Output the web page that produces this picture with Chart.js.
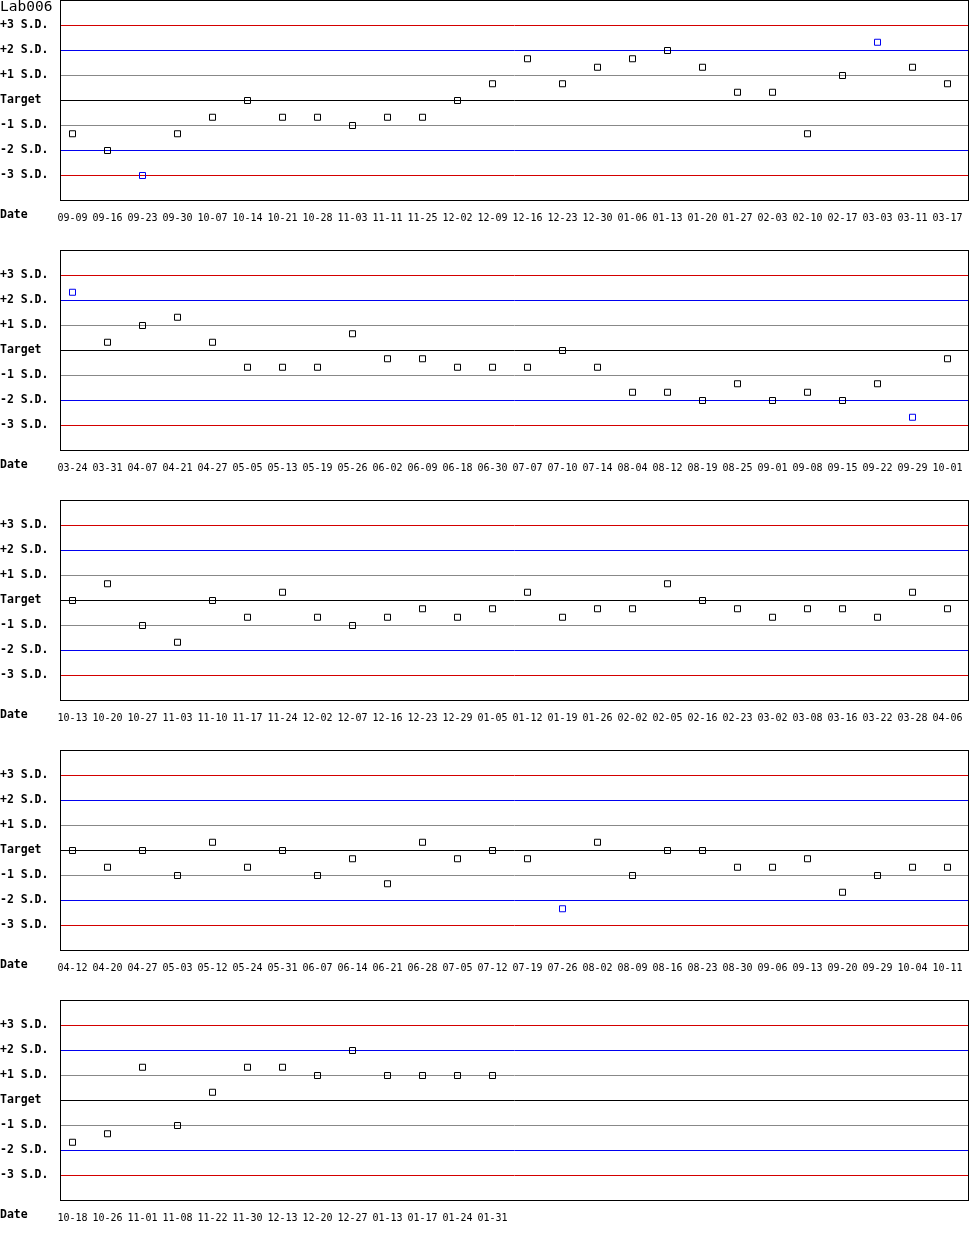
<!DOCTYPE html>
<html>
<head>
<meta charset="utf-8">
<script src="https://cdn.jsdelivr.net/npm/chart.js@4.4.1/dist/chart.umd.min.js"></script>
<style>
  body { margin: 0; background: #fff; }
  .panel { position: absolute; left: 0; width: 970px; height: 250px; }
</style>
</head>
<body>
<div class="panel" style="top:0"><canvas id="c0"></canvas></div>
<div class="panel" style="top:250px"><canvas id="c1"></canvas></div>
<div class="panel" style="top:500px"><canvas id="c2"></canvas></div>
<div class="panel" style="top:750px"><canvas id="c3"></canvas></div>
<div class="panel" style="top:1000px"><canvas id="c4"></canvas></div>
<script>
// y tick labels, +4 / -4 S.D. are the frame and stay unlabelled
var sdLabels = {3: '+3 S.D.', 2: '+2 S.D.', 1: '+1 S.D.', 0: 'Target',
                '-1': '-1 S.D.', '-2': '-2 S.D.', '-3': '-3 S.D.'};

var dates1 = ['09-09','09-16','09-23','09-30','10-07','10-14','10-21','10-28','11-03','11-11','11-25','12-02','12-09',
              '12-16','12-23','12-30','01-06','01-13','01-20','01-27','02-03','02-10','02-17','03-03','03-11','03-17'];
var values1 = [-1.33,-2.0,-3.0,-1.33,-0.67,0,-0.67,-0.67,-1.0,-0.67,-0.67,0,0.67,
               1.67,0.67,1.33,1.67,2.0,1.33,0.33,0.33,-1.33,1.0,2.33,1.33,0.67];

var dates2 = ['03-24','03-31','04-07','04-21','04-27','05-05','05-13','05-19','05-26','06-02','06-09','06-18','06-30',
              '07-07','07-10','07-14','08-04','08-12','08-19','08-25','09-01','09-08','09-15','09-22','09-29','10-01'];
var values2 = [2.33,0.33,1.0,1.33,0.33,-0.67,-0.67,-0.67,0.67,-0.33,-0.33,-0.67,-0.67,
               -0.67,0,-0.67,-1.67,-1.67,-2.0,-1.33,-2.0,-1.67,-2.0,-1.33,-2.67,-0.33];

var dates3 = ['10-13','10-20','10-27','11-03','11-10','11-17','11-24','12-02','12-07','12-16','12-23','12-29','01-05',
              '01-12','01-19','01-26','02-02','02-05','02-16','02-23','03-02','03-08','03-16','03-22','03-28','04-06'];
var values3 = [0,0.67,-1.0,-1.67,0,-0.67,0.33,-0.67,-1.0,-0.67,-0.33,-0.67,-0.33,
               0.33,-0.67,-0.33,-0.33,0.67,0,-0.33,-0.67,-0.33,-0.33,-0.67,0.33,-0.33];

var dates4 = ['04-12','04-20','04-27','05-03','05-12','05-24','05-31','06-07','06-14','06-21','06-28','07-05','07-12',
              '07-19','07-26','08-02','08-09','08-16','08-23','08-30','09-06','09-13','09-20','09-29','10-04','10-11'];
var values4 = [0,-0.67,0,-1.0,0.33,-0.67,0,-1.0,-0.33,-1.33,0.33,-0.33,0,
               -0.33,-2.33,0.33,-1.0,0,0,-0.67,-0.67,-0.33,-1.67,-1.0,-0.67,-0.67];

var dates5 = ['10-18','10-26','11-01','11-08','11-22','11-30','12-13','12-20','12-27','01-13','01-17','01-24','01-31'];
var values5 = [-1.67,-1.33,1.33,-1.0,0.33,1.33,1.33,1.0,2.0,1.0,1.0,1.0,1.0];

var panels = [[dates1, values1], [dates2, values2], [dates3, values3], [dates4, values4], [dates5, values5]];

var RED = '#d40000', BLUE = '#0000f0', GRAY = '#888888', BLACK = '#000000';
var MONO = "'DejaVu Sans Mono', 'Liberation Mono', monospace";
var STEP = 35;          // px per run
var FIRST = 12.5;       // px from plot edge to first run (half px keeps the boxes crisp)
var PLOT_W = 909;
var SD_PX = 25;         // px per S.D.

function lineColor(v) {
  var a = Math.abs(v);
  if (a === 4) return 'rgba(0,0,0,0)';
  if (a === 3) return RED;
  if (a === 2) return BLUE;
  if (a === 1) return GRAY;
  return BLACK;
}

var framePlugin = {
  id: 'frame',
  afterDraw: function(chart, args, opts) {
    var ctx = chart.ctx, a = chart.chartArea;
    ctx.save();
    ctx.strokeStyle = '#000';
    ctx.lineWidth = 1;
    ctx.strokeRect(a.left + 0.5, a.top + 0.5, a.right - a.left - 1, a.bottom - a.top);
    ctx.fillStyle = '#000';
    ctx.textAlign = 'left';
    ctx.textBaseline = 'middle';
    ctx.font = 'bold 11.5px ' + MONO;
    ctx.fillText('Date', 0, a.bottom + 15);
    if (opts.title) {
      ctx.font = '14.5px ' + MONO;
      ctx.fillText(opts.title, 0, 7);
    }
    ctx.restore();
  }
};

panels.forEach(function(p, n) {
  var dates = p[0], values = p[1];
  new Chart(document.getElementById('c' + n), {
    type: 'scatter',
    data: {
      datasets: [{
        data: values.map(function(v, i) { return {x: i, y: v}; }),
        pointStyle: 'rect',
        pointRadius: 3 / Math.SQRT1_2 / 1,
        pointHoverRadius: 3 / Math.SQRT1_2,
        pointBorderWidth: 1,
        pointBackgroundColor: 'rgba(0,0,0,0)',
        pointBorderColor: function(c) {
          var v = c.raw ? c.raw.y : 0;
          return Math.abs(v) > 2 ? BLUE : BLACK;
        },
        showLine: false
      }]
    },
    options: {
      responsive: true,
      maintainAspectRatio: false,
      animation: false,
      events: [],
      layout: { autoPadding: false, padding: { left: 0, right: 1, top: 0, bottom: 0 } },
      plugins: {
        legend: { display: false },
        tooltip: { enabled: false },
        frame: { title: n === 0 ? 'Lab006' : '' }
      },
      scales: {
        x: {
          type: 'linear',
          bounds: 'data',
          min: -FIRST / STEP,
          max: -FIRST / STEP + PLOT_W / STEP,
          afterFit: function(s) { s.height = 50; s.paddingLeft = 0; s.paddingRight = 0; },
          afterBuildTicks: function(s) {
            s.ticks = dates.map(function(d, i) { return {value: i}; });
          },
          grid: { display: false, drawTicks: false },
          border: { display: false },
          ticks: {
            autoSkip: false,
            maxRotation: 0,
            minRotation: 0,
            padding: 12,
            color: '#000',
            font: { family: MONO, size: 10 },
            callback: function(v) { return dates[v]; }
          }
        },
        y: {
          // half a pixel of shift so lines and boxes fall on whole pixels
          min: -4 + 0.5 / SD_PX,
          max: 4 + 0.5 / SD_PX,
          bounds: 'data',
          afterFit: function(s) { s.width = 60; s.paddingTop = 0; s.paddingBottom = 0; },
          afterBuildTicks: function(s) {
            s.ticks = [3, 2, 1, 0, -1, -2, -3].map(function(v) { return {value: v}; });
          },
          grid: {
            drawTicks: false,
            lineWidth: 1,
            color: function(c) { return lineColor(c.tick ? c.tick.value : 4); }
          },
          border: { display: false },
          ticks: {
            crossAlign: 'far',
            padding: 0,
            color: '#000',
            font: { family: MONO, size: 11.5, weight: 'bold' },
            callback: function(v) { return sdLabels[v] || ''; }
          }
        }
      }
    },
    plugins: [framePlugin]
  });
});
</script>
</body>
</html>
